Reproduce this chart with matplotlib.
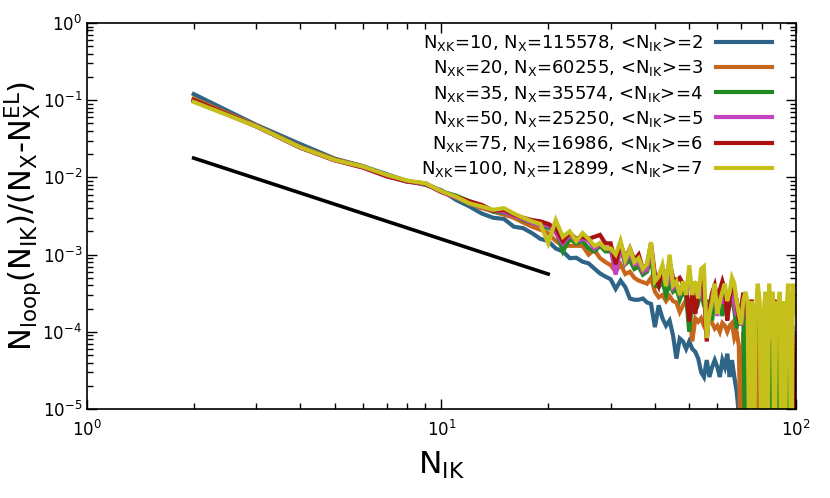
import numpy as np
import matplotlib
matplotlib.use("Agg")
import matplotlib.pyplot as plt
from matplotlib.ticker import LogLocator

plt.rcParams["mathtext.default"] = "regular"
plt.rcParams["axes.unicode_minus"] = False

# ==========================
# DATA
# ==========================

n_ik = np.arange(2, 101)

blue_vals = [
    0.12, 0.048, 0.027, 0.0175, 0.014, 0.011, 0.009, 0.008, 0.0068, 0.0051,
    0.0042, 0.0034, 0.0030, 0.0029, 0.0023, 0.0022, 0.0019, 0.0016, 0.0015, 0.0012,
    0.0011, 0.0009, 0.00091, 0.00081, 0.00077, 0.00066, 0.00057, 0.00052, 0.00048, 0.00036,
    4.6e-4, 3.8e-4, 2.7e-4, 2.6e-4, 2.6e-4, 2.7e-4, 2.4e-4, 2.3e-4, 1.15e-4, 2.2e-4,
    1.5e-4, 1.2e-4, 1.4e-4, 9e-5, 4.5e-5, 8.2e-5, 7.5e-5, 6e-5, 7.5e-5, 6e-5,
    5.5e-5, 4.5e-5, 3e-5, 2.6e-5, 4.3e-5, 2.6e-5, 3.5e-5, 4.3e-5, 3.5e-5, 2.6e-5,
    4.3e-5, 3.5e-5, 5.2e-5, 2.6e-5, 4.3e-5, 2.6e-5, 1.7e-5, 8.7e-6, 1.7e-5, 8.7e-6,
    2.6e-5, 1e-6, 1.7e-5, 1e-6, 2.6e-5, 1e-6, 1.7e-5, 2.6e-5, 1e-6, 1.7e-5,
    1e-6, 1e-6, 1.7e-5, 1e-6, 2.6e-5, 1e-6, 1.7e-5, 1e-6, 1e-6, 1.7e-5,
    1e-6, 1e-6, 1.7e-5, 1e-6, 1e-6, 1.7e-5, 1e-6, 1e-6, 1e-6,
]

orange_vals = [
    0.105, 0.047, 0.025, 0.0172, 0.0139, 0.0106, 0.0089, 0.0082, 0.0066, 0.0055,
    0.0046, 0.0040, 0.0036, 0.0033, 0.0030, 0.0026, 0.0023, 0.0021, 0.0019, 0.0015,
    0.0013, 0.0013, 0.0013, 0.0013, 0.0010, 0.00115, 0.0009, 0.0008, 0.00073, 0.0006,
    7.5e-4, 5.6e-4, 6.0e-4, 5.0e-4, 4.6e-4, 4.4e-4, 4.2e-4, 5.0e-4, 3.3e-4, 2.8e-4,
    3.0e-4, 2.5e-4, 2.9e-4, 2.5e-4, 2.4e-4, 1.8e-4, 2.2e-4, 2.6e-4, 1.9e-4, 7.5e-5,
    1.5e-4, 1.35e-4, 1.5e-4, 1.2e-4, 1.0e-4, 1.6e-4, 1.3e-4, 1.1e-4, 1.2e-4, 1.0e-4,
    1.3e-4, 1.2e-4, 1.0e-4, 1.2e-4, 1.3e-4, 8.3e-5, 1.0e-4, 6.6e-5, 1e-6, 1.0e-4,
    5.0e-5, 8.3e-5, 3.3e-5, 6.6e-5, 1e-6, 5.0e-5, 8.3e-5, 1e-6, 6.6e-5, 3.3e-5,
    1e-6, 8.3e-5, 5.0e-5, 1e-6, 6.6e-5, 3.3e-5, 1e-6, 5.0e-5, 1e-6, 6.6e-5,
    3.3e-5, 1e-6, 5.0e-5, 1e-6, 6.6e-5, 1e-6, 1e-6, 5.0e-5, 1e-6,
]

green_vals = [
    0.10, 0.046, 0.0245, 0.0168, 0.0137, 0.0105, 0.0088, 0.0084, 0.0066, 0.0058,
    0.0049, 0.0043, 0.0036, 0.0035, 0.0033, 0.0028, 0.0026, 0.0024, 0.0022, 0.0021,
    0.0011, 0.0016, 0.0014, 0.0015, 0.0012, 0.0011, 0.0013, 0.0011, 0.0011, 0.0009,
    1.2e-3, 7.5e-4, 8.5e-4, 6.5e-4, 7.0e-4, 5.5e-4, 6.0e-4, 9.0e-4, 4.0e-4, 3.8e-4,
    4.5e-4, 3.0e-4, 4.2e-4, 3.3e-4, 3.6e-4, 2.6e-4, 3.4e-4, 2.8e-4, 1.0e-4, 2.6e-4,
    3.0e-4, 2.4e-4, 3.4e-4, 2.2e-4, 2.0e-4, 2.6e-4, 1.4e-4, 3.0e-4, 1.8e-4, 2.4e-4,
    1.6e-4, 2.8e-4, 1.7e-4, 2.2e-4, 2.8e-4, 1.9e-4, 1.1e-4, 1.9e-4, 1.4e-4, 2.2e-4,
    1e-6, 1.7e-4, 1.1e-4, 1.9e-4, 1.4e-4, 8.5e-5, 1.7e-4, 1.1e-4, 5.6e-5, 1.4e-4,
    8.5e-5, 1.7e-4, 1e-6, 1.1e-4, 1.4e-4, 5.6e-5, 1.1e-4, 1e-6, 8.5e-5, 1.4e-4,
    5.6e-5, 1.1e-4, 1e-6, 8.5e-5, 1e-6, 1.1e-4, 5.6e-5, 1e-6, 8.5e-5,
]

magenta_vals = [
    0.098, 0.046, 0.0242, 0.0166, 0.0134, 0.0103, 0.0088, 0.0083, 0.0064, 0.0055,
    0.0047, 0.0042, 0.0037, 0.0036, 0.0032, 0.0029, 0.0026, 0.0024, 0.0024, 0.0019,
    0.0014, 0.0018, 0.0015, 0.0016, 0.0015, 0.0012, 0.0014, 0.0012, 0.0012, 0.00055,
    1.3e-3, 8.0e-4, 1.1e-3, 7.5e-4, 8.0e-4, 6.0e-4, 6.5e-4, 1.2e-3, 5.0e-4, 5.5e-4,
    6.5e-4, 4.0e-4, 6.0e-4, 3.7e-4, 4.2e-4, 3.2e-4, 4.0e-4, 3.3e-4, 5.0e-4, 3.0e-4,
    3.8e-4, 2.6e-4, 4.5e-4, 2.6e-4, 2.2e-4, 1.6e-4, 3.1e-4, 3.5e-4, 1.6e-4, 3.0e-4,
    2.3e-4, 3.5e-4, 2.0e-4, 2.6e-4, 3.5e-4, 2.3e-4, 1.6e-4, 2.3e-4, 1.2e-4, 2.0e-4,
    2.6e-4, 1.6e-4, 8e-5, 1.6e-4, 1.2e-4, 2.0e-4, 1.6e-4, 1.2e-4, 8e-5, 1.6e-4,
    1.2e-4, 4.0e-5, 2.0e-4, 8e-5, 1.2e-4, 1.6e-4, 8e-5, 1.2e-4, 1.6e-4, 8e-5,
    1.2e-4, 4.0e-5, 1.6e-4, 8e-5, 1.2e-4, 8e-5, 1.2e-4, 4e-5, 8e-5,
]

red_vals = [
    0.100, 0.046, 0.0243, 0.0167, 0.0135, 0.0104, 0.0089, 0.0083, 0.0065, 0.0056,
    0.0049, 0.0044, 0.0037, 0.0038, 0.0033, 0.0030, 0.0028, 0.0027, 0.0025, 0.0022,
    0.0015, 0.0019, 0.0016, 0.0017, 0.0016, 0.0017, 0.0018, 0.0014, 0.0014, 0.00075,
    1.4e-3, 9.0e-4, 1.2e-3, 8.5e-4, 1.0e-3, 6.5e-4, 7.5e-4, 1.4e-3, 5.5e-4, 4.0e-4,
    7.0e-4, 4.5e-4, 8.0e-4, 5.0e-4, 4.6e-4, 5.0e-4, 4.2e-4, 3.8e-4, 1.35e-4, 3.5e-4,
    1.7e-4, 3.2e-4, 4.7e-4, 3.5e-4, 7.5e-5, 2.0e-4, 3.2e-4, 4.0e-4, 2.6e-4, 3.5e-4,
    4.5e-4, 3.5e-4, 1.4e-4, 2.6e-4, 4.5e-4, 3.5e-4, 2.6e-4, 1.4e-4, 2.0e-4, 3.2e-4,
    2.6e-4, 1.4e-4, 2.0e-4, 2.6e-4, 1.6e-4, 2.0e-4, 1.4e-4, 2.0e-4, 1.2e-4, 1.4e-4,
    7.5e-5, 1.6e-4, 2.0e-4, 1.2e-4, 1.4e-4, 2.6e-4, 1.6e-4, 7.5e-5, 2.0e-4, 1.4e-4,
    6.0e-5, 1.6e-4, 7.5e-5, 1.2e-4, 6.0e-5, 1.4e-4, 7.5e-5, 1e-6, 6.0e-5,
]

yellow_vals = [
    0.095, 0.046, 0.0245, 0.0168, 0.0138, 0.0108, 0.0091, 0.0084, 0.0066, 0.0056,
    0.0046, 0.0042, 0.0038, 0.0040, 0.0034, 0.0030, 0.0027, 0.0025, 0.0014, 0.0028,
    0.0017, 0.0020, 0.0015, 0.0019, 0.0016, 0.0013, 0.0014, 0.0012, 0.0012, 0.0010,
    1.5e-3, 8.5e-4, 1.2e-3, 8.0e-4, 9.0e-4, 6.5e-4, 7.5e-4, 1.45e-3, 4.5e-4, 5.2e-4,
    7.3e-4, 3.9e-4, 1.0e-3, 4.0e-4, 4.5e-4, 3.0e-4, 4.5e-4, 3.0e-4, 7.3e-4, 3.0e-4,
    4.5e-4, 2.7e-4, 6.5e-4, 7.0e-4, 8.3e-5, 1.7e-4, 2.5e-4, 4.2e-4, 1.7e-4, 2.5e-4,
    3.3e-4, 4.2e-4, 2.5e-4, 3.3e-4, 5.0e-4, 4.2e-4, 2.5e-4, 1.7e-4, 1.25e-4, 2.5e-4,
    3.3e-4, 2.5e-4, 1e-6, 2.5e-4, 1e-6, 1.7e-4, 4.2e-4, 2.5e-4, 1e-6, 1.7e-4,
    3.3e-4, 1e-6, 4.2e-4, 8.3e-5, 3.3e-4, 1e-6, 2.5e-4, 1.7e-4, 3.3e-4, 1e-6,
    2.5e-4, 1e-6, 1.7e-4, 4.2e-4, 1.7e-4, 1e-6, 4.2e-4, 1.7e-4, 1.7e-4,
]

n_xk = [10, 20, 35, 50, 75, 100]
n_x = [115578, 60255, 35574, 25250, 16986, 12899]
mean_nik = [2, 3, 4, 5, 6, 7]
colors = ["#2e6486", "#c8661c", "#228a22", "#c443c4", "#aa1111", "#c6c01c"]

# guide line with slope -3/2
guide_x = [2, 20]
guide_y = [0.0178, 5.6e-4]

# ==========================
# PLOT
# ==========================

fig = plt.figure(figsize=(8.3, 4.98), dpi=100)
ax = fig.add_axes([0.1048, 0.1787, 0.8542, 0.7751])

series = [blue_vals, orange_vals, green_vals, magenta_vals, red_vals, yellow_vals]
for vals, c, xk, nx, m in zip(series, colors, n_xk, n_x, mean_nik):
    label = r"N$_{XK}$=%d, N$_X$=%d, <N$_{IK}$>=%d" % (xk, nx, m)
    ax.plot(n_ik, vals, color=c, lw=3, label=label, solid_joinstyle="miter")

ax.plot(guide_x, guide_y, color="black", lw=2.6)

ax.set_xscale("log")
ax.set_yscale("log")
ax.set_xlim(1, 100)
ax.set_ylim(1e-5, 1)

ax.yaxis.set_major_locator(LogLocator(base=10, numticks=10))
ax.yaxis.set_minor_locator(LogLocator(base=10, subs=np.arange(2, 10), numticks=10))

ax.tick_params(which="both", direction="in", top=True, right=True, labelsize=12)
ax.tick_params(which="major", length=7, width=1)
ax.tick_params(which="minor", length=4, width=1)
ax.tick_params(axis="x", pad=8)
for s in ax.spines.values():
    s.set_linewidth(1.2)

ax.set_xlabel(r"N$_{IK}$", fontsize=22.5)
ax.set_ylabel(r"N$_{loop}$(N$_{IK}$)/(N$_X$-N$_X^{EL}$)", fontsize=22)
ax.xaxis.set_label_coords(0.5, -0.105)
ax.yaxis.set_label_coords(-0.061, 0.5)

leg = ax.legend(loc="upper right", frameon=False, markerfirst=False,
                fontsize=13, handlelength=3.1, handletextpad=0.72,
                labelspacing=0.29, borderpad=0, borderaxespad=0,
                bbox_to_anchor=(0.966, 0.974))

plt.savefig("out.png", dpi=100)
